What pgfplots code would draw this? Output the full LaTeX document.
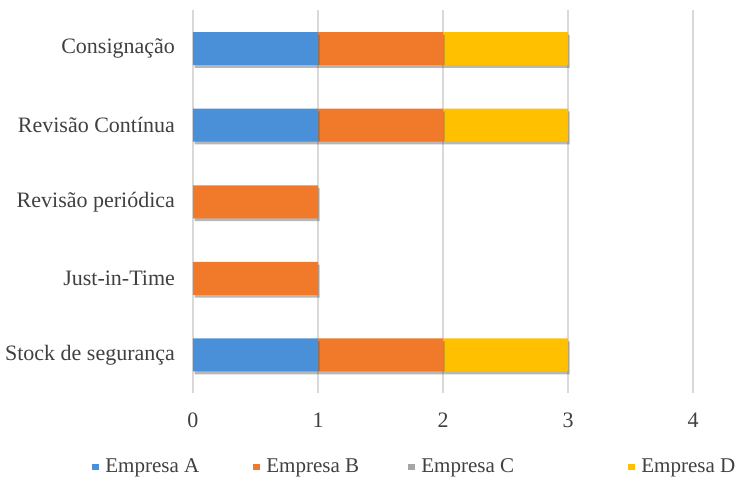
\documentclass[border=0pt]{standalone}
\usepackage{fontspec}
\setmainfont{Liberation Serif}
\usepackage{pgfplots}
\pgfplotsset{compat=1.18}
\usetikzlibrary{shadows}
\definecolor{cA}{HTML}{4A90D9}
\definecolor{cB}{HTML}{F07A2A}
\definecolor{cC}{HTML}{A5A5A5}
\definecolor{cD}{HTML}{FFC000}
\definecolor{gridc}{HTML}{D9D9D9}
\definecolor{txt}{HTML}{404040}
\pgfplotsset{
  legsq/.style={legend image code/.code={\fill[##1, draw=none] (0pt,-1.6pt) rectangle (3.2pt,1.6pt); \path[draw=none, fill=none] (0pt,0pt) -- (6.5pt,0pt);}},
  shad/.style={drop shadow={shadow xshift=0.8pt, shadow yshift=-1.4pt, opacity=0.4, fill=black!70}},
}
\begin{document}
\begin{tikzpicture}
\begin{axis}[
  scale only axis,
  width=250pt, height=191.5pt,
  xbar stacked,
  bar width=16.5pt,
  xmin=0, xmax=4,
  ymin=-0.5, ymax=4.5,
  xtick={0,1,2,3,4},
  ytick={0,1,2,3,4},
  yticklabels={Stock de segurança, Just-in-Time, Revisão periódica, Revisão Contínua, Consignação},
  xmajorgrids,
  major grid style={gridc, line width=0.6pt},
  axis line style={draw=none},
  major tick length=0pt,
  /pgf/number format/assume math mode=true,
  tick label style={font=\fontsize{11}{13}\selectfont, text=txt},
  xticklabel style={yshift=-6.5pt},
  yticklabel style={xshift=-5.5pt},
  legend columns=4,
  legend style={draw=none, fill=none, at={(axis cs:-0.808,-1.462)}, anchor=west, inner sep=0pt,
    font=\fontsize{10.5}{12}\selectfont, text=txt, nodes={inner sep=0pt},
    /tikz/every even column/.style={column sep=0pt}},
  legend cell align=left,
  clip=false,
]
\addplot[fill=cA, draw=none, shad, forget plot] coordinates {(1,0) (0,1) (0,2) (1,3) (1,4)};
\addplot[fill=cB, draw=none, shad, forget plot] coordinates {(1,0) (1,1) (1,2) (1,3) (1,4)};
\addplot[fill=cC, draw=none, forget plot] coordinates {(0,0) (0,1) (0,2) (0,3) (0,4)};
\addplot[fill=cD, draw=none, shad, forget plot] coordinates {(1,0) (0,1) (0,2) (1,3) (1,4)};
\addlegendimage{legsq, fill=cA, draw=none}
\addlegendentry{\makebox[74pt][l]{Empresa A}}
\addlegendimage{legsq, fill=cB, draw=none}
\addlegendentry{\makebox[71pt][l]{Empresa B}}
\addlegendimage{legsq, fill=cC, draw=none}
\addlegendentry{\makebox[103.5pt][l]{Empresa C}}
\addlegendimage{legsq, fill=cD, draw=none}
\addlegendentry{Empresa D}
\coordinate (bl) at (axis cs:-1.544,-1.645);
\coordinate (tr) at (axis cs:4.496,4.634);
\end{axis}
\pgfresetboundingbox
\path[use as bounding box] (bl) rectangle (tr);
\end{tikzpicture}
\end{document}
